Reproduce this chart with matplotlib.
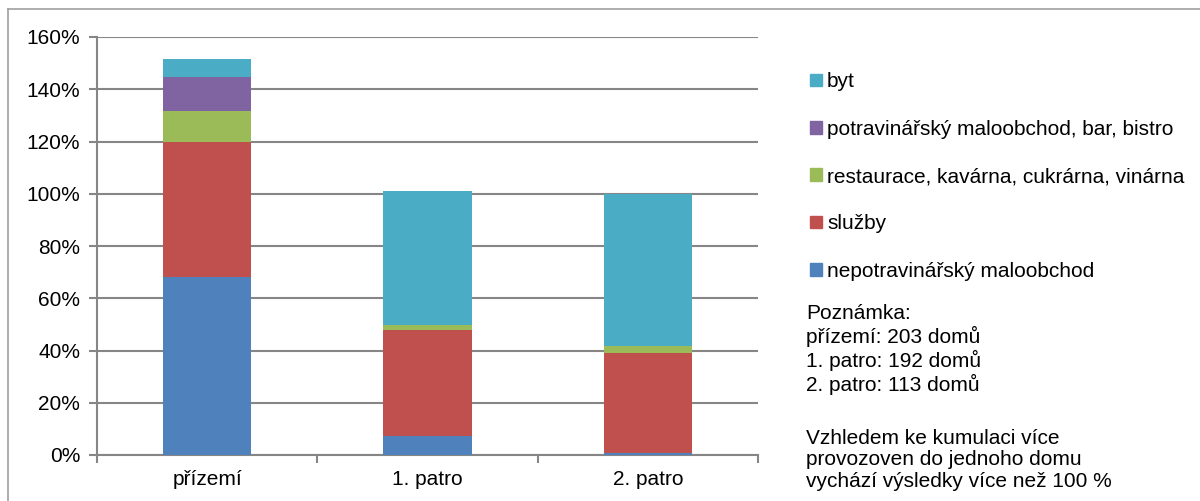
import numpy as np
import matplotlib.pyplot as plt
from matplotlib.patches import Patch
from matplotlib.lines import Line2D
from matplotlib.ticker import FuncFormatter

plt.rcParams['font.family'] = ['Liberation Sans', 'DejaVu Sans']

# podlaží
patra = ['přízemí', '1. patro', '2. patro']

# podíly provozoven (v %)
nepotravinarsky = [68.0, 7.4, 0.9]
sluzby = [51.9, 40.6, 38.0]
restaurace = [11.9, 1.6, 2.8]
potravinarsky = [12.9, 0.0, 0.0]
byt = [6.8, 51.3, 58.3]

serie = [
    ('nepotravinářský maloobchod', nepotravinarsky, '#4f81bd'),
    ('služby', sluzby, '#c0504d'),
    ('restaurace, kavárna, cukrárna, vinárna', restaurace, '#9bbb59'),
    ('potravinářský maloobchod, bar, bistro', potravinarsky, '#8064a2'),
    ('byt', byt, '#4bacc6'),
]

poznamka = 'Poznámka:\npřízemí: 203 domů\n1. patro: 192 domů\n2. patro: 113 domů'
vysvetleni = 'Vzhledem ke kumulaci více\nprovozoven do jednoho domu\nvychází výsledky více než 100 %'

fs = 15

fig = plt.figure(figsize=(12, 5.01), dpi=100)
ax = fig.add_axes([97 / 1200, 46 / 501, 661 / 1200, 418 / 501])

x = np.arange(len(patra))
spodek = np.zeros(len(patra))
for nazev, hodnoty, barva in serie:
    ax.bar(x, hodnoty, 0.4, bottom=spodek, color=barva, zorder=3)
    spodek += np.array(hodnoty)

ax.set_xlim(-0.5, 2.5)
ax.set_ylim(0, 160)
ax.set_yticks(np.arange(0, 161, 20))
ax.yaxis.set_major_formatter(FuncFormatter(lambda v, p: f'{v:.0f}%'))
ax.grid(axis='y', color='#868686', linewidth=1.5, zorder=0)
ax.set_xticks(x)
ax.set_xticklabels(patra)
ax.set_xticks([-0.5, 0.5, 1.5, 2.5], minor=True)
ax.tick_params(axis='x', which='major', length=0, labelsize=fs, pad=11)
ax.tick_params(axis='x', which='minor', length=6, color='#868686', width=1.5)
ax.tick_params(axis='y', length=6, color='#868686', width=1.5, labelsize=fs, pad=6)
for s in ['top', 'right']:
    ax.spines[s].set_visible(False)
ax.spines['left'].set_color('#868686')
ax.spines['left'].set_linewidth(1.5)
ax.spines['bottom'].set_color('#868686')
ax.spines['bottom'].set_linewidth(1.5)

# legenda od horní řady
handles = [Patch(color=b) for _, _, b in serie][::-1]
labels = [n for n, _, _ in serie][::-1]
fig.legend(handles, labels, loc='upper left', bbox_to_anchor=(802 / 1200, 1 - 64 / 501),
           frameon=False, fontsize=fs, handlelength=0.55, handleheight=0.55,
           handletextpad=0.25, labelspacing=1.36, borderaxespad=0)

fig.text(806 / 1200, 1 - 304 / 501, poznamka, fontsize=fs, va='top', ha='left',
         linespacing=1.165)
fig.text(806 / 1200, 1 - 429 / 501, vysvetleni, fontsize=fs, va='top', ha='left',
         linespacing=1.165)

# rámeček grafu
fig.add_artist(Line2D([8 / 1200, 8 / 1200], [0, 1 - 9 / 501], color='#a0a0a0', lw=1.2))
fig.add_artist(Line2D([8 / 1200, 1], [1 - 9 / 501, 1 - 9 / 501], color='#a0a0a0', lw=1.2))

fig.savefig('out.png', dpi=100)
